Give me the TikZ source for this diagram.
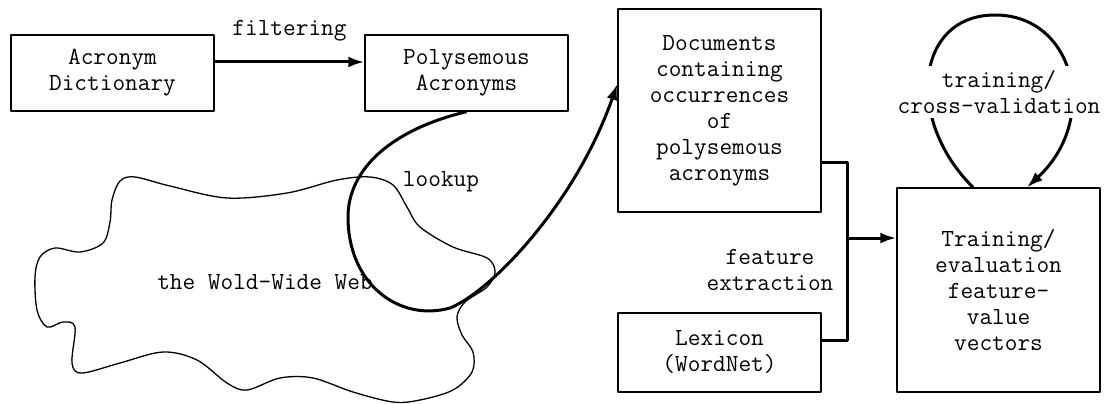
\documentclass[tikz,border=0pt]{standalone}
\usepackage{fontspec}
\usetikzlibrary{arrows.meta}

\tikzset{
  txt/.style={font=\ttfamily\fontsize{24.6}{26}\selectfont, align=center, inner sep=2pt},
  box/.style={txt, draw, line width=1.4pt, minimum width=203pt, inner sep=0pt},
  thin/.style={line width=1.3pt},
  heavy/.style={line width=3pt},
  flow/.style={heavy, -{Latex[length=16pt,width=11pt]}},
}

\begin{document}
\begin{tikzpicture}[x=1pt, y=-1pt, line join=round]
\useasboundingbox (0,0) rectangle (1109,404);

% the web as a wavy outline
\draw[thin] plot[smooth cycle, tension=0.55] coordinates {
  (112,200) (120,181) (135,177) (170,186) (227,198) (287,193) (337,180)
  (370,177) (393,185) (407,207) (420,227) (453,247) (487,258) (495,272)
  (487,287) (465,302) (457,317) (462,335) (473,352) (472,372) (453,390)
  (420,400) (393,402) (353,392) (313,378) (280,378) (247,390) (227,383)
  (197,360) (163,352) (120,363) (82,373) (72,363) (75,327) (63,322)
  (47,327) (37,310) (35,277) (40,257) (55,248) (80,252) (103,243) (110,222)};
\node[txt] (web) at (265,282) {the Wold-Wide Web};

% boxes
\node[box, minimum height=76pt] (ad) at (112.5,73) {Acronym\\Dictionary};
\node[box, minimum height=76pt] (pa) at (466.5,73) {Polysemous\\Acronyms};
\node[box, minimum height=203pt] (dc) at (719.5,110.5)
  {Documents\\containing\\occurrences\\of\\polysemous\\acronyms};
\node[box, minimum height=79pt] (lx) at (719.5,352.5) {Lexicon\\(WordNet)};
\node[box, minimum height=204pt] (tr) at (998.5,290)
  {Training/\\evaluation\\feature-\\value\\vectors};

% filtering
\draw[flow] ([yshift=11pt]ad.east) -- ([yshift=11pt]pa.west)
  node[txt, midway, yshift=31pt] (flt) {filtering};

% lookup on the web
\draw[flow] (pa.south)
  .. controls (390,130) and (348,170) .. (348,217)
  .. controls (348,285) and (400,322) .. (450,308)
  .. controls (490,292) and (575,205) .. ([yshift=26.5pt]dc.west);
\node[txt] (lk) at (441,182) {lookup};

% feature extraction
\coordinate (j) at (847,238);
\draw[heavy] ([yshift=-51.5pt]dc.east) -| (j);
\draw[heavy] ([yshift=12.5pt]lx.east) -| (j);
\draw[flow] (j) -- (j -| tr.west);
\node[txt] (fe) at (770,270) {feature\\extraction};

% training / cross-validation loop
\draw[flow] ([xshift=-25.5pt]tr.north)
  .. controls (905,120) and (915,15) .. (995,15)
  .. controls (1075,15) and (1100,120) .. ([xshift=28.5pt]tr.north);
\node[txt, fill=white, inner sep=4pt] (cv) at (999,92) {training/\\cross-validation};
\end{tikzpicture}
\end{document}
